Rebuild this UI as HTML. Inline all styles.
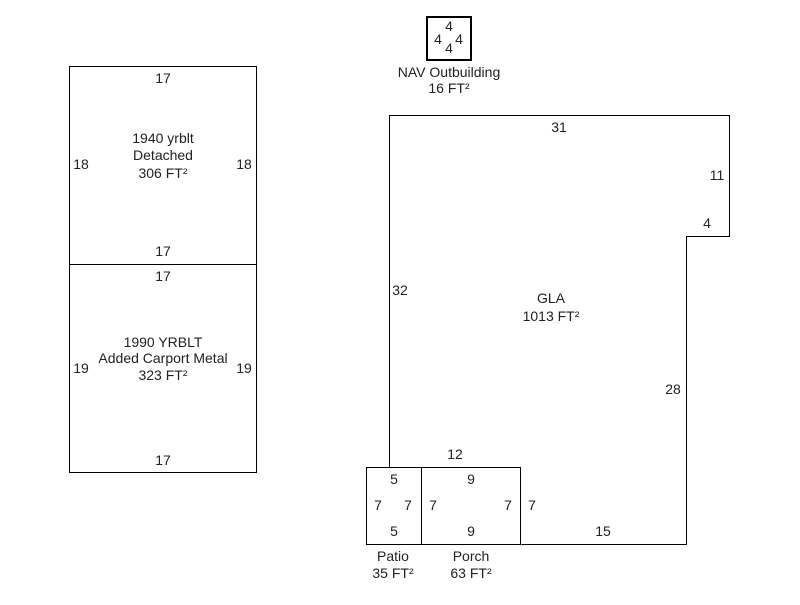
<!DOCTYPE html>
<html><head><style>
body{margin:0;background:#fff;}
svg text{font-family:"Liberation Sans",Arial,sans-serif;font-size:14px;fill:#222;text-anchor:middle;}
</style></head><body>
<svg width="800" height="600" xmlns="http://www.w3.org/2000/svg">
<g fill="none" stroke="#000" stroke-width="1">
<rect x="69.5" y="66.5" width="187" height="198"/>
<rect x="69.5" y="264.5" width="187" height="208"/>
<polyline points="389.5,467.5 389.5,115.5 729.5,115.5 729.5,236.5 686.5,236.5 686.5,544.5 521.5,544.5"/>
<rect x="366.5" y="467.5" width="55" height="77"/>
<rect x="421.5" y="467.5" width="99" height="77"/>
</g>
<rect x="427" y="17" width="44" height="43" fill="none" stroke="#000" stroke-width="2"/>
<text x="163" y="83">17</text>
<text x="163" y="143">1940 yrblt</text>
<text x="163" y="160">Detached</text>
<text x="163" y="178">306 FT²</text>
<text x="81" y="169">18</text>
<text x="244" y="169">18</text>
<text x="163" y="256">17</text>
<text x="163" y="281">17</text>
<text x="163" y="347">1990 YRBLT</text>
<text x="163" y="363">Added Carport Metal</text>
<text x="163" y="380">323 FT²</text>
<text x="81" y="373">19</text>
<text x="244" y="373">19</text>
<text x="163" y="465">17</text>
<text x="449" y="31">4</text>
<text x="438" y="44">4</text>
<text x="459" y="44">4</text>
<text x="449" y="53">4</text>
<text x="449" y="77">NAV Outbuilding</text>
<text x="449" y="93">16 FT²</text>
<text x="559" y="132">31</text>
<text x="717" y="180">11</text>
<text x="707" y="228">4</text>
<text x="400" y="295">32</text>
<text x="551" y="303">GLA</text>
<text x="551" y="321">1013 FT²</text>
<text x="673" y="394">28</text>
<text x="455" y="459">12</text>
<text x="394" y="484">5</text>
<text x="378" y="510">7</text>
<text x="408" y="510">7</text>
<text x="394" y="536">5</text>
<text x="471" y="484">9</text>
<text x="433" y="510">7</text>
<text x="508" y="510">7</text>
<text x="471" y="536">9</text>
<text x="532" y="510">7</text>
<text x="603" y="536">15</text>
<text x="393" y="561">Patio</text>
<text x="393" y="578">35 FT²</text>
<text x="471" y="561">Porch</text>
<text x="471" y="578">63 FT²</text>
</svg>
</body></html>
